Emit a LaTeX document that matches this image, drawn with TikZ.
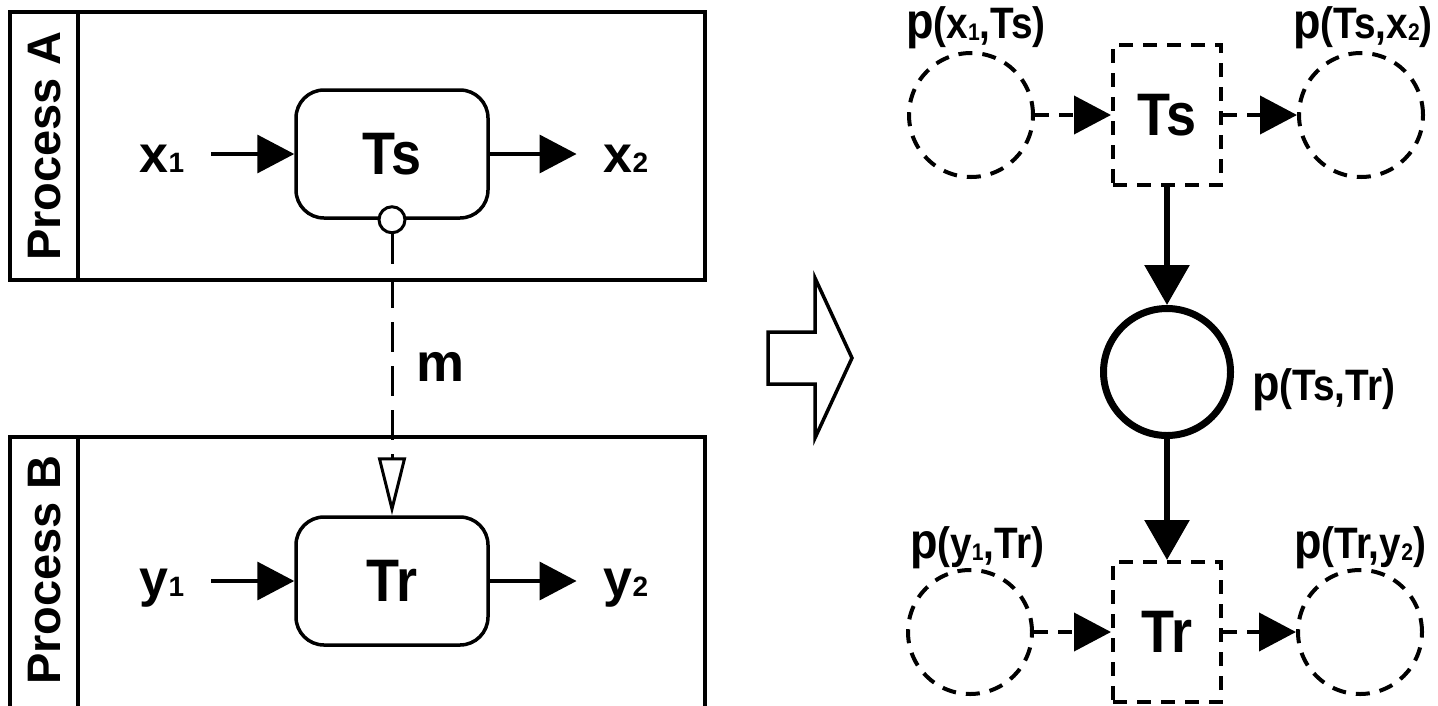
\documentclass[tikz,border=0pt]{standalone}
\usepackage{fontspec}
\usepackage{graphicx}
\setmainfont{Liberation Sans}
\usetikzlibrary{arrows.meta}
\newcommand{\fsz}[1]{\fontsize{#1}{#1}\selectfont}
\newcommand{\plab}[1]{{\fsz{50}\scalebox{0.9}[1]{p}}{\fsz{44}\scalebox{0.88}[1]{(#1)}}}
\newcommand{\sbs}[1]{\raisebox{-2pt}{\fsz{24}#1}}
\newcommand{\lsub}[2]{{\fsz{52}#1}{\fsz{28}#2}}
\newcommand{\tname}[1]{\scalebox{0.9}[1]{\fsz{60}#1}}
\begin{document}
\begin{tikzpicture}[x=1pt,y=-1pt,font=\bfseries,
  frame/.style={draw,line width=4pt},
  proc/.style={draw,line width=3.5pt,rounded corners=28pt,minimum width=192pt,minimum height=128pt,inner sep=0pt},
  lbl/.style={anchor=base,inner xsep=27pt,inner ysep=0pt},
  flow/.style={line width=3.5pt,-{Triangle[length=37pt,width=38pt]}},
  msg/.style={line width=3pt,dash pattern=on 30pt off 14pt,-{Triangle[open,length=58pt,width=28pt]}},
  place/.style={circle,draw,dash pattern=on 14pt off 10pt,line width=4pt,minimum size=124pt,inner sep=0pt},
  trans/.style={rectangle,draw,dash pattern=on 14pt off 10pt,line width=4pt,minimum width=108pt,minimum height=140pt,inner sep=0pt},
  darc/.style={line width=4pt,dash pattern=on 14pt off 10pt,-{Triangle[length=37pt,width=38pt]}},
  tarc/.style={line width=6pt,-{Triangle[length=40pt,width=44pt]}},
  plbl/.style={anchor=base,inner sep=0pt}]
\clip (0,0) rectangle (1438,705);
\fill[white] (0,0) rectangle (1438,705);
% lanes
\draw[frame] (10,12) rectangle (705,280);
\draw[frame] (78,12) -- (78,280);
\draw[frame] (10,437) rectangle (705,720);
\draw[frame] (78,437) -- (78,720);
\node[rotate=90,font=\bfseries\fsz{47}] (labA) at (45,146) {Process A};
\node[rotate=90,font=\bfseries\fsz{47}] (labB) at (45,570) {Process B};
% process A
\node[proc] (ts) at (392,154) {\tname{Ts}};
\node[lbl] (x1) at (162,172) {\lsub{x}{1}};
\node[lbl] (x2) at (626,172) {\lsub{x}{2}};
\draw[flow] (x1.east |- ts.west) -- (ts.west);
\draw[flow] (ts.east) -- (x2.west |- ts.east);
% process B
\node[proc] (tr) at (392,581) {\tname{Tr}};
\node[lbl] (y1) at (162,596) {\lsub{y}{1}};
\node[lbl] (y2) at (626,596) {\lsub{y}{2}};
\draw[flow] (y1.east |- tr.west) -- (tr.west);
\draw[flow] (tr.east) -- (y2.west |- tr.east);
% message
\node[circle,draw,fill=white,line width=3pt,minimum size=26pt,inner sep=0pt] (sc) at (ts.south) {};
\draw[msg] (sc.south) -- (tr.north);
\node[font=\bfseries\fsz{54}] (m) at (441,367) {m};
% transform arrow
\draw[line width=3.5pt,line join=miter] (768,332) -- (815,332) -- (815,278) -- (852,358) -- (815,438) -- (815,384) -- (768,384) -- cycle;
% petri net
\node[place] (p1) at (971,115) {};
\node[trans] (ts2) at (1167,115) {\tname{Ts}};
\node[place] (p2) at (1361,115) {};
\node[circle,draw,line width=7pt,minimum size=127pt,inner sep=0pt] (pm) at (1167,372) {};
\node[place] (p3) at (970,632) {};
\node[trans] (tr2) at (1167,632) {\tname{Tr}};
\node[place] (p4) at (1360,632) {};
\draw[darc] (p1) -- (ts2);
\draw[darc] (ts2) -- (p2);
\draw[darc] (p3) -- (tr2);
\draw[darc] (tr2) -- (p4);
\draw[tarc] (ts2) -- (pm);
\draw[tarc] (pm) -- (tr2);
\node[plbl] (l1) at (976,38) {\plab{x\sbs{1},Ts}};
\node[plbl] (l2) at (1363,38) {\plab{Ts,x\sbs{2}}};
\node[plbl,anchor=base west] (lm) at (1252,400) {\plab{Ts,Tr}};
\node[plbl] (l3) at (977,558) {\plab{y\sbs{1},Tr}};
\node[plbl] (l4) at (1360,558) {\plab{Tr,y\sbs{2}}};
\end{tikzpicture}
\end{document}
